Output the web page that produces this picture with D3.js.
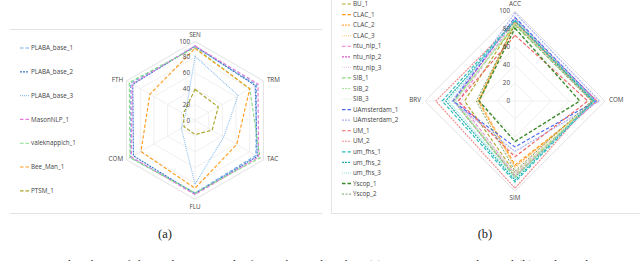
<!DOCTYPE html>
<html>
<head>
<meta charset="utf-8">
<script src="https://cdn.jsdelivr.net/npm/d3@7"></script>
<style>
  body { margin: 0; background: #fff; }
  svg { display: block; }
  .lbl { font-family: "Open Sans", sans-serif; font-size: 6.3px; fill: #444; }
  .cap { font-family: "Liberation Serif", "DejaVu Serif", serif; fill: #222; }
</style>
</head>
<body>
<svg id="chart" width="640" height="261"></svg>
<script>
// panel (a) data
var axesA = ["SEN", "TRM", "TAC", "FLU", "COM", "FTH"];
var namesA = ["PLABA_base_1", "PLABA_base_2", "PLABA_base_3", "MasonNLP_1", "valeknappich_1", "Bee_Man_1", "PTSM_1"];
var valuesA = [
  [93, 90, 89, 92, 94, 94],
  [94, 88, 91, 93, 90, 91],
  [81, 63, 42, 81, 20, 14],
  [94, 92, 93, 94, 93, 92],
  [92, 80, 95, 92, 95, 96],
  [91, 80, 61, 86, 79, 66],
  [39, 34, 25, 18, 16, 17]
];

// panel (b) data
var axesB = ["ACC", "COM", "SIM", "BRV"];
var namesB = ["BU_1", "CLAC_1", "CLAC_2", "CLAC_3", "ntu_nlp_1", "ntu_nlp_2", "ntu_nlp_3",
  "SIB_1", "SIB_2", "SIB_3", "UAmsterdam_1", "UAmsterdam_2", "UM_1", "UM_2",
  "um_fhs_1", "um_fhs_2", "um_fhs_3", "Yscop_1", "Yscop_2"];
var valuesB = [
  [87, 89, 80, 56],
  [88, 91, 71, 40],
  [86, 90, 73, 41],
  [85, 92, 75, 39],
  [90, 91, 82, 63],
  [92, 90, 84, 68],
  [91, 89, 80, 66],
  [84, 86, 85, 68],
  [86, 88, 83, 67],
  [87, 87, 81, 65],
  [93, 90, 51, 69],
  [98, 94, 56, 70],
  [73, 81, 62, 63],
  [88, 86, 97, 88],
  [90, 88, 90, 81],
  [89, 87, 88, 77],
  [91, 89, 86, 74],
  [81, 72, 45, 40],
  [85, 85, 78, 43]
];
var ticks = [0, 20, 40, 60, 80, 100];

// line styles (kept apart from the data)
var DASH = "3.5,2", DENSE = "2,1", DOT = "1,1";
var styleA = [
  { c: "#74aee8", d: DASH }, { c: "#3a78cf", d: DENSE }, { c: "#8fc0f0", d: DOT },
  { c: "#e879d6", d: DASH }, { c: "#86dc86", d: DASH }, { c: "#ff9c1e", d: DASH },
  { c: "#aaa226", d: DASH }
];
var styleB = [
  { c: "#b2a62a", d: DASH }, { c: "#ff9a10", d: DASH }, { c: "#ffa848", d: DENSE }, { c: "#ffd59a", d: DOT },
  { c: "#ef7ad8", d: DASH }, { c: "#d458c6", d: DENSE }, { c: "#f4c9ef", d: DOT },
  { c: "#8ad97a", d: DASH }, { c: "#a9e69c", d: DENSE }, { c: "#d3f2cb", d: DOT },
  { c: "#4a6cf0", d: DASH }, { c: "#a9b3f6", d: DENSE },
  { c: "#ef6262", d: DASH }, { c: "#f38a8a", d: DENSE },
  { c: "#2fbdbd", d: DASH }, { c: "#22adad", d: DENSE }, { c: "#8fe4dc", d: DOT },
  { c: "#3c8a2c", d: DASH, w: 1.4 }, { c: "#4d8a3e", d: "2,1.5", w: 0.8 }
];

var svg = d3.select("#chart");
svg.append("rect").attr("width", 640).attr("height", 261).attr("fill", "#fff");

// panel frames
svg.append("line").attr("x1", 10).attr("x2", 322).attr("y1", 29.5).attr("y2", 29.5).attr("stroke", "#e4e4e4");
svg.append("line").attr("x1", 10).attr("x2", 322).attr("y1", 213.5).attr("y2", 213.5).attr("stroke", "#e4e4e4");
svg.append("line").attr("x1", 331.5).attr("x2", 331.5).attr("y1", 0).attr("y2", 213).attr("stroke", "#e4e4e4");
svg.append("line").attr("x1", 331).attr("x2", 640).attr("y1", 213.5).attr("y2", 213.5).attr("stroke", "#e4e4e4");

function radar(cfg) {
  var g = svg.append("g").attr("transform", "translate(" + cfg.cx + "," + cfg.cy + ")");
  var n = cfg.axes.length;
  var r = d3.scaleLinear().domain([0, 100]).range([0, cfg.R]);
  var ang = function(i) { return i * 2 * Math.PI / n; };

  // grid rings
  var ring = d3.lineRadial().angle(function(d, i) { return ang(i); }).radius(function(d) { return r(d); })
    .curve(d3.curveLinearClosed);
  ticks.slice(1).forEach(function(t) {
    g.append("path").attr("d", ring(cfg.axes.map(function() { return t; })))
      .attr("fill", "none").attr("stroke", t === 100 ? "#dcdcdc" : "#ececec").attr("stroke-width", 0.8);
  });
  // spokes
  cfg.axes.forEach(function(a, i) {
    g.append("line")
      .attr("x1", 0).attr("y1", 0)
      .attr("x2", r(100) * Math.sin(ang(i))).attr("y2", -r(100) * Math.cos(ang(i)))
      .attr("stroke", "#ececec").attr("stroke-width", 0.8);
  });

  // series
  cfg.values.forEach(function(v, k) {
    var s = cfg.styles[k];
    g.append("path").attr("d", ring(v))
      .attr("fill", "none").attr("stroke", s.c).attr("stroke-width", s.w || 1.15)
      .attr("stroke-dasharray", s.d);
  });

  // tick labels along the first axis
  ticks.forEach(function(t) {
    g.append("text").attr("class", "lbl")
      .attr("x", -5).attr("y", -r(t)).attr("dy", "0.35em")
      .attr("text-anchor", "end").text(t);
  });

  // axis labels
  cfg.axes.forEach(function(a, i) {
    var sx = Math.sin(ang(i)), sy = -Math.cos(ang(i));
    var x = (r(100) + 4) * sx, y = (r(100) + 4) * sy;
    var anchor = Math.abs(sx) < 0.01 ? "middle" : (sx > 0 ? "start" : "end");
    var dy = sy < -0.9 ? "-0.1em" : (sy > 0.9 ? "0.85em" : "0.35em");
    g.append("text").attr("class", "lbl")
      .attr("x", x).attr("y", Math.abs(sx) < 0.01 ? y : r(100) * sy - 1)
      .attr("dy", dy).attr("text-anchor", anchor).text(a);
  });

  // legend
  cfg.names.forEach(function(nm, k) {
    var s = cfg.styles[k];
    var y = cfg.ly + k * cfg.lstep;
    svg.append("line").attr("x1", cfg.lx).attr("x2", cfg.lx + 9).attr("y1", y).attr("y2", y)
      .attr("stroke", s.c).attr("stroke-width", s.w || 1.15).attr("stroke-dasharray", s.d);
    svg.append("text").attr("class", "lbl").attr("x", cfg.lx + 11).attr("y", y).attr("dy", "0.35em").text(nm);
  });
}

radar({ cx: 195, cy: 120.3, R: 79, axes: axesA, names: namesA, values: valuesA, styles: styleA,
  lx: 20, ly: 48, lstep: 23.8 });
radar({ cx: 515, cy: 101, R: 90, axes: axesB, names: namesB, values: valuesB, styles: styleB,
  lx: 342, ly: 4, lstep: 10.56 });

// sub captions
svg.append("text").attr("class", "cap").attr("x", 165).attr("y", 237.5).attr("text-anchor", "middle")
  .attr("font-size", 12.5).text("(a)");
svg.append("text").attr("class", "cap").attr("x", 485).attr("y", 237.5).attr("text-anchor", "middle")
  .attr("font-size", 12.5).text("(b)");

// figure caption, only its top edge reaches into the page
svg.append("text").attr("class", "cap").attr("x", 0).attr("y", 269).attr("font-size", 11.5)
  .attr("textLength", 640).attr("lengthAdjust", "spacing")
  .text("Figure 4: Radar charts of the evaluation results for Task 1 and Task 2. (a) PLABA 2024 Task 1 and (b) Task 2 submissions.");
</script>
</body>
</html>
